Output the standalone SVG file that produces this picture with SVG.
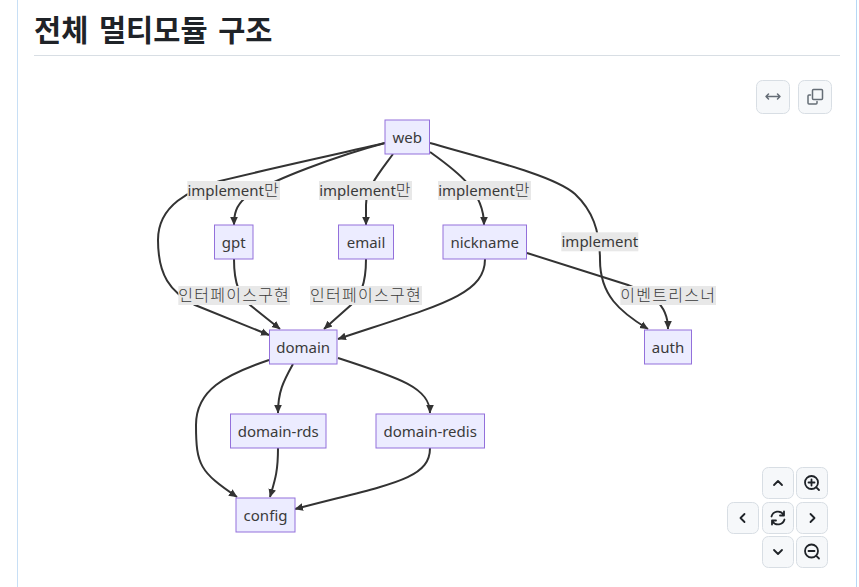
<svg xmlns="http://www.w3.org/2000/svg" width="859" height="587" viewBox="0 0 859 587">
<style>
text{font-family:"Noto Sans","Noto Sans CJK KR",sans-serif;fill:#3a3a3a;font-size:15px;text-anchor:middle}
.k{font-family:"Noto Sans CJK KR",sans-serif;font-size:16px;font-weight:300;letter-spacing:1.25px}
.title{font-size:29.500px;font-weight:700;fill:#1f2328;text-anchor:start;font-family:"Noto Sans CJK KR","Noto Sans",sans-serif;word-spacing:4px}
.n{fill:#ececff;stroke:#9370db;stroke-width:1}
.lb{fill:#e8e8e8}
.e{fill:none;stroke:#333;stroke-width:2}
.btn{fill:#f6f8fa;stroke:#d8dee4;stroke-width:1}
.ic{fill:none;stroke:#656d76;stroke-width:1.500;stroke-linecap:round;stroke-linejoin:round}
.ic2{fill:none;stroke:#1f2328;stroke-width:1.800;stroke-linecap:round;stroke-linejoin:round}
</style>
<defs>
<marker id="a" markerUnits="userSpaceOnUse" markerWidth="10" markerHeight="10" refX="8" refY="5" orient="auto"><path d="M0 1.200L8.500 5L0 8.800Z" fill="#333"/></marker>
</defs>
<rect width="859" height="587" fill="#fff"/>
<path d="M17.500 0V587" stroke="#c8dff5" fill="none"/>
<path d="M856.500 0V587" stroke="#b6d7f5" fill="none"/>
<text class="title" x="34" y="41">전체 멀티모듈 구조</text>
<path d="M34 55.500H840" stroke="#d8dee4" fill="none"/>
<g id="connectors">
<path class="e" marker-end="url(#a)" d="M385 143C320 158 260 171 220 181C190 190 158 205 158 240C158 275 170 292 195 305L269 335"/>
<path class="e" marker-end="url(#a)" d="M385 143C340 155 270 180 245 198C236 206 234 214 234 225"/>
<path class="e" marker-end="url(#a)" d="M393 154C380 172 366 188 366 205V225"/>
<path class="e" marker-end="url(#a)" d="M430 152C455 170 484 190 484 225"/>
<path class="e" marker-end="url(#a)" d="M430 143C490 160 555 176 575 194C592 210 600 230 600 260C600 295 620 312 648 329"/>
<path class="e" marker-end="url(#a)" d="M234 259C234 285 240 296 250 305L280 329"/>
<path class="e" marker-end="url(#a)" d="M366 259C366 285 360 296 351 305L324 329"/>
<path class="e" marker-end="url(#a)" d="M485 259C485 295 440 305 338 339"/>
<path class="e" marker-end="url(#a)" d="M527 253L628 285C645 292 668 300 668 329"/>
<path class="e" marker-end="url(#a)" d="M269 360C225 375 196 390 196 425C196 465 200 472 237 497"/>
<path class="e" marker-end="url(#a)" d="M293 364C283 382 278 392 278 413"/>
<path class="e" marker-end="url(#a)" d="M338 358C400 378 430 388 430 413"/>
<path class="e" marker-end="url(#a)" d="M278 448C278 472 275 480 270 497"/>
<path class="e" marker-end="url(#a)" d="M430 448C430 480 390 484 295 509"/>
</g>
<g id="edge-labels">
<g><rect class="lb" x="187.300" y="181" width="92.700" height="19"/><text x="233.700" y="196">implement<tspan class="k">만</tspan></text></g>
<g><rect class="lb" x="319" y="181" width="93" height="19"/><text x="365.500" y="196">implement<tspan class="k">만</tspan></text></g>
<g><rect class="lb" x="438" y="181" width="93" height="19"/><text x="484.500" y="196">implement<tspan class="k">만</tspan></text></g>
<g><rect class="lb" x="561.300" y="232.300" width="77" height="19"/><text x="599.800" y="247.300">implement</text></g>
<g><rect class="lb" x="178.300" y="286" width="111.700" height="19"/><text class="k" x="234.200" y="301">인터페이스구현</text></g>
<g><rect class="lb" x="310" y="286" width="112" height="19"/><text class="k" x="366" y="301">인터페이스구현</text></g>
<g><rect class="lb" x="620.300" y="286" width="95.700" height="19"/><text class="k" x="668.200" y="301">이벤트리스너</text></g>
</g>
<g id="web"><rect class="n" x="385" y="120" width="44.500" height="34"/><text x="407.200" y="142.500">web</text></g>
<g id="gpt"><rect class="n" x="214.500" y="225" width="38.500" height="34"/><text x="233.700" y="247.500">gpt</text></g>
<g id="email"><rect class="n" x="338.500" y="225" width="55" height="34"/><text x="366" y="247.500">email</text></g>
<g id="nickname"><rect class="n" x="443" y="225" width="83.500" height="34"/><text x="484.700" y="247.500">nickname</text></g>
<g id="domain"><rect class="n" x="269.500" y="330" width="67.500" height="34"/><text x="303.200" y="352.500">domain</text></g>
<g id="auth"><rect class="n" x="644.500" y="330" width="47" height="34"/><text x="668" y="352.500">auth</text></g>
<g id="domain-rds"><rect class="n" x="230.500" y="414" width="95.500" height="34"/><text x="278.200" y="436.500">domain-rds</text></g>
<g id="domain-redis"><rect class="n" x="376" y="414" width="108.500" height="34"/><text x="430.200" y="436.500">domain-redis</text></g>
<g id="config"><rect class="n" x="236" y="498" width="59" height="34"/><text x="265.500" y="520.500">config</text></g>
<g id="controls">
<rect class="btn" x="756.500" y="80.500" width="33" height="33" rx="6"/>
<path class="ic" d="M766 96.500H780M768.500 94L766 96.500L768.500 99M777.500 94L780 96.500L777.500 99"/>
<rect class="btn" x="798.500" y="80.500" width="33" height="33" rx="6"/>
<path class="ic" d="M810.500 95H809Q808 95 808 96V103Q808 104 809 104H816Q817 104 817 103V101.500"/>
<path class="ic" d="M813.500 89.500H821.500Q822.500 89.500 822.500 90.500V98.500Q822.500 99.500 821.500 99.500H813.500Q812.500 99.500 812.500 98.500V90.500Q812.500 89.500 813.500 89.500Z"/>
<rect class="btn" x="762.500" y="467.500" width="31" height="31" rx="6"/>
<path class="ic2" d="M774 485L778 481L782 485"/>
<rect class="btn" x="796.500" y="467.500" width="31" height="31" rx="6"/>
<circle class="ic2" cx="811.500" cy="482.500" r="6.500"/><path class="ic2" d="M816.300 487.300L819 490M811.500 479.500V485.500M808.500 482.500H814.500"/>
<rect class="btn" x="727.500" y="502.500" width="31" height="31" rx="6"/>
<path class="ic2" d="M744.500 514L740.500 518L744.500 522"/>
<rect class="btn" x="762.500" y="502.500" width="31" height="31" rx="6"/>
<path class="ic2" d="M771.500 516.500A6.700 6.700 0 0 1 783.500 514.500M784.500 519.500A6.700 6.700 0 0 1 772.500 521.500M784 511.500V515.500H780M772 524.500V520.500H776"/>
<rect class="btn" x="796.500" y="502.500" width="31" height="31" rx="6"/>
<path class="ic2" d="M810.500 514L814.500 518L810.500 522"/>
<rect class="btn" x="762.500" y="536.500" width="31" height="31" rx="6"/>
<path class="ic2" d="M774 550L778 554L782 550"/>
<rect class="btn" x="796.500" y="536.500" width="31" height="31" rx="6"/>
<circle class="ic2" cx="811.500" cy="551" r="6.500"/><path class="ic2" d="M816.300 555.800L819 558.500M808.500 551H814.500"/>
</g>
</svg>
